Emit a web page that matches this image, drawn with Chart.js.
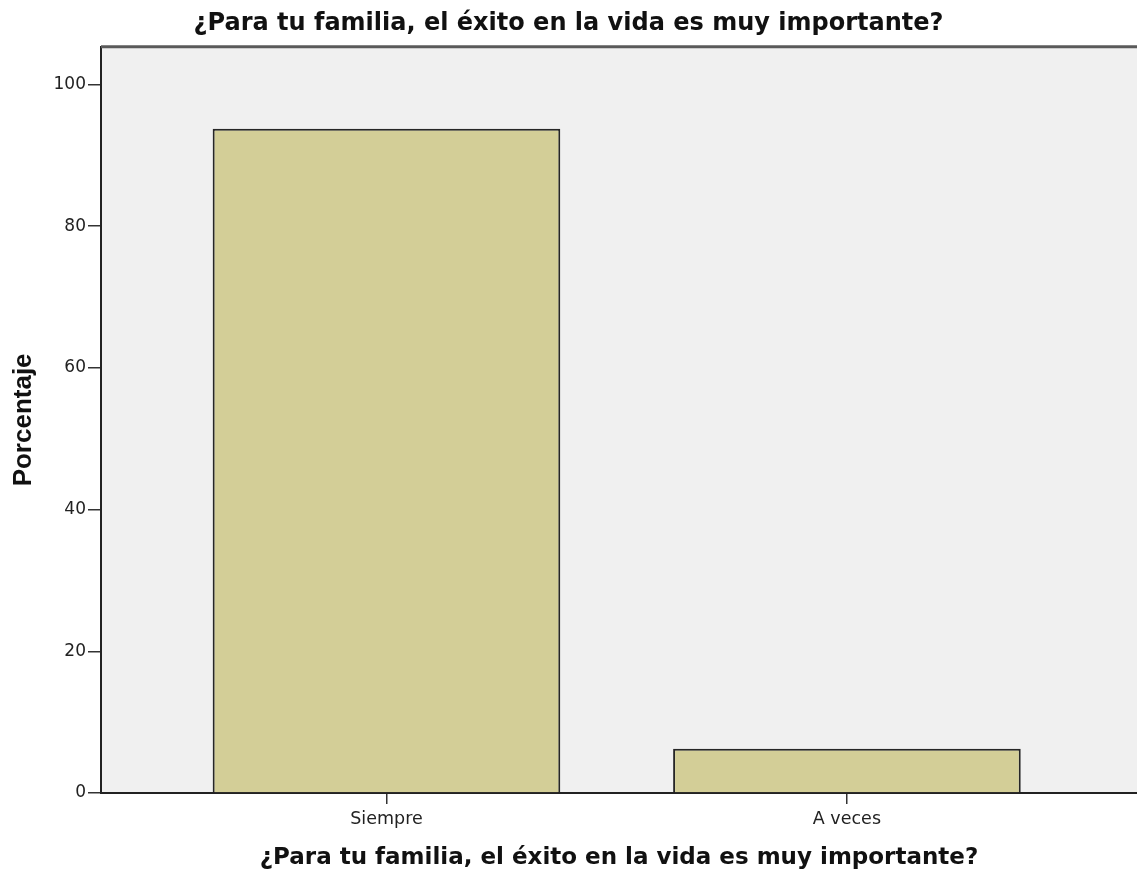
<!DOCTYPE html>
<html>
<head>
<meta charset="utf-8">
<script src="https://cdn.jsdelivr.net/npm/chart.js@4/dist/chart.umd.min.js"></script>
<style>
    body { margin: 0; background: #fff; }
    canvas { display: block; }
</style>
</head>
<body>
<canvas id="barChart" width="1137" height="879"></canvas>
<script>
// Data
const categories = ['Siempre', 'A veces'];
const percentages = [93.75, 6.25];
const yTicks = [0, 20, 40, 60, 80, 100];
const chartTitle = '¿Para tu familia, el éxito en la vida es muy importante?';
const yTitle = 'Porcentaje';

// Plot background + top frame line like SPSS output
const plotFrame = {
    id: 'plotFrame',
    beforeDraw(chart) {
        const { ctx, chartArea: a } = chart;
        ctx.save();
        ctx.fillStyle = '#f0f0f0';
        ctx.fillRect(a.left, a.top, a.right - a.left, a.bottom - a.top);
        ctx.restore();
    },
    afterDraw(chart) {
        const { ctx, chartArea: a } = chart;
        ctx.save();
        ctx.strokeStyle = '#5a5a5a';
        ctx.lineWidth = 3;
        ctx.beginPath();
        ctx.moveTo(a.left, a.top);
        ctx.lineTo(a.right, a.top);
        ctx.stroke();
        ctx.restore();
    }
};

const ctx = document.getElementById('barChart').getContext('2d');
new Chart(ctx, {
    type: 'bar',
    data: {
        datasets: [{
            data: percentages.map((v, i) => ({ x: i + 1, y: v })),
            backgroundColor: '#d3ce97',
            borderColor: '#262626',
            borderWidth: 2,
            borderSkipped: 'start',
            categoryPercentage: 1,
            barPercentage: 0.755
        }]
    },
    options: {
        responsive: false,
        animation: false,
        layout: { padding: 0 },
        plugins: {
            legend: { display: false },
            tooltip: { enabled: false },
            title: {
                display: true,
                text: chartTitle,
                color: '#111',
                font: { family: 'DejaVu Sans', size: 24, weight: 'bold' },
                padding: { top: 9, bottom: 9 }
            }
        },
        scales: {
            x: {
                type: 'linear',
                min: 0.38,
                max: 2.63,
                offset: false,
                afterBuildTicks: scale => { scale.ticks = categories.map((_, i) => ({ value: i + 1 })); },
                afterFit: scale => { scale.height = 86; },
                ticks: {
                    callback: v => categories[v - 1],
                    color: '#222',
                    font: { family: 'DejaVu Sans', size: 17.5 },
                    padding: 5,
                    maxRotation: 0
                },
                grid: { offset: false, drawOnChartArea: false, tickLength: 11, color: '#333', lineWidth: 1.5 },
                border: { display: true, color: '#222', width: 2 },
                title: {
                    display: true,
                    text: chartTitle,
                    color: '#111',
                    font: { family: 'DejaVu Sans', size: 23, weight: 'bold' },
                    padding: { top: 0, bottom: 7 }
                }
            },
            y: {
                min: 0,
                max: 105.3,
                afterBuildTicks: scale => { scale.ticks = yTicks.map(v => ({ value: v })); },
                afterFit: scale => { scale.width = 101; },
                ticks: {
                    color: '#222',
                    font: { family: 'DejaVu Sans', size: 17 },
                    padding: 2
                },
                grid: { drawOnChartArea: false, tickLength: 13, color: '#333', lineWidth: 1.5 },
                border: { display: true, color: '#222', width: 2 },
                title: {
                    display: true,
                    text: yTitle,
                    color: '#111',
                    font: { family: 'Liberation Sans', size: 26, weight: 'bold' },
                    padding: { top: 8, bottom: 0 }
                }
            }
        }
    },
    plugins: [plotFrame]
});
</script>
</body>
</html>
